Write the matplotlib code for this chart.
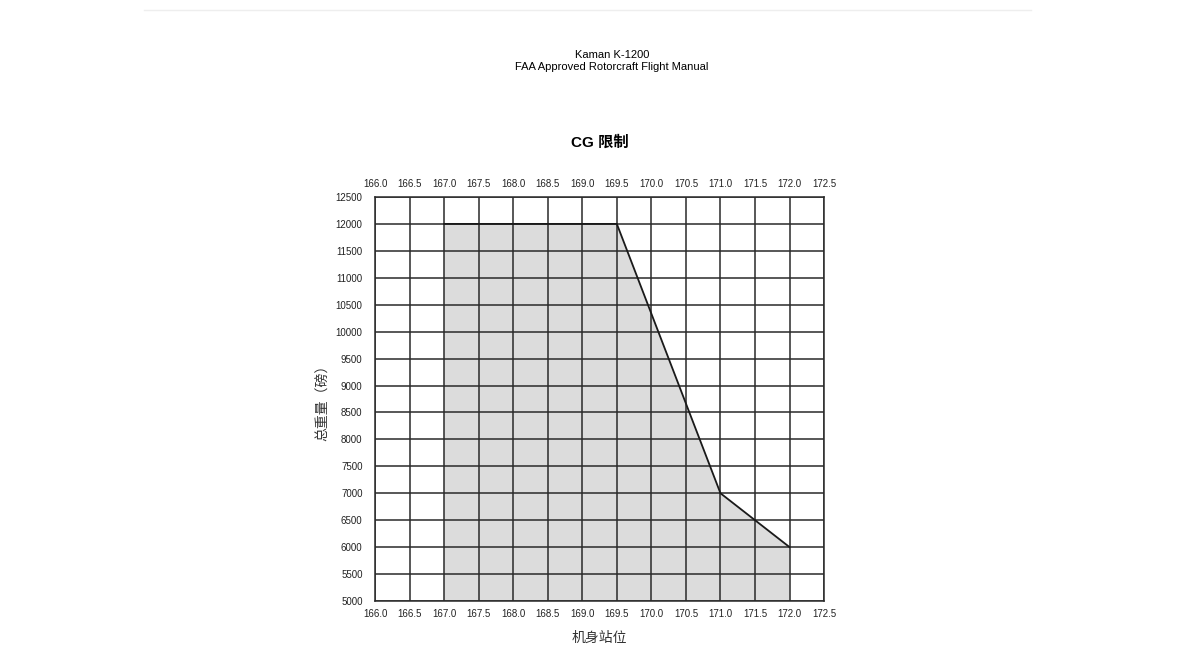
import matplotlib
import matplotlib.pyplot as plt
plt.switch_backend('agg')
import numpy as np

plt.rcParams['font.family'] = ['Liberation Sans', 'Noto Sans CJK SC', 'DejaVu Sans']

# CG envelope (fuselage station vs gross weight)
station = [167.0, 167.0, 169.5, 171.0, 172.0, 172.0]
weight = [5000, 12000, 12000, 7000, 6000, 5000]

x_ticks = np.arange(166.0, 172.51, 0.5)
y_ticks = np.arange(5000, 12501, 500)

fig = plt.figure(figsize=(11.99, 6.46), dpi=100)
ax = fig.add_axes([0.3128, 0.0697, 0.3745, 0.6254])

ax.fill(station, weight, color='#dcdcdc', zorder=1, linewidth=0)
ax.plot(station[1:5], weight[1:5], color='#1a1a1a', linewidth=1.3, zorder=3)

ax.set_xlim(166.0, 172.5)
ax.set_ylim(5000, 12500)
ax.set_xticks(x_ticks)
ax.set_yticks(y_ticks)
ax.set_xticklabels(['%.1f' % v for v in x_ticks], fontsize=7, color='#222222')
ax.set_yticklabels(['%d' % v for v in y_ticks], fontsize=7, color='#222222')
ax.tick_params(axis='x', top=True, labeltop=True, length=0, pad=6)
ax.tick_params(axis='y', length=0, pad=9)
ax.grid(True, color='#2a2a2a', linewidth=1.1, zorder=2)
ax.set_axisbelow(False)
for s in ax.spines.values():
    s.set_color('#2a2a2a')
    s.set_linewidth(1.1)

ax.set_xlabel('机身站位', fontsize=10, labelpad=8, color='#333333')
ax.set_ylabel('总重量（磅）', fontsize=10, labelpad=4, color='#333333')

fig.text(0.5105, 0.915, 'Kaman K-1200', ha='center', va='center', fontsize=8)
fig.text(0.5105, 0.896, 'FAA Approved Rotorcraft Flight Manual', ha='center', va='center', fontsize=8)
fig.text(0.5, 0.78, 'CG 限制', ha='center', va='center', fontsize=11, fontweight='bold')

fig.add_artist(plt.Line2D([0.12, 0.86], [0.985, 0.985], color='#eeeeee', linewidth=1))

plt.savefig('out.png', dpi=100)
plt.close()
